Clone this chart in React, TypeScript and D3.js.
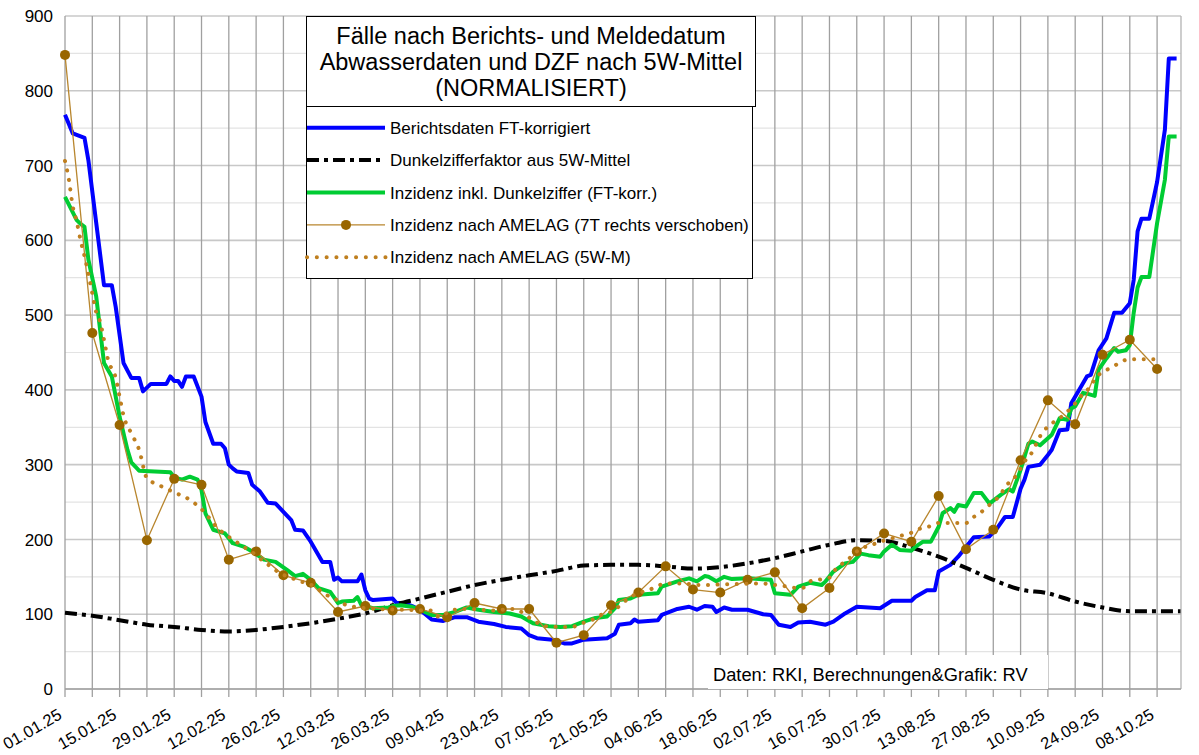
import {useEffect, useRef} from 'react';
import * as d3 from 'd3';

const WIDTH = 1199;
const HEIGHT = 755;
const START = new Date(Date.UTC(2025, 0, 1));
const LAST_DAY = 286;

const yTicks = [0, 100, 200, 300, 400, 500, 600, 700, 800, 900];

const titleLines = [
  'Fälle nach Berichts- und Meldedatum',
  'Abwasserdaten und DZF nach 5W-Mittel',
  '(NORMALISIERT)',
];

const legendLabels = [
  'Berichtsdaten FT-korrigiert',
  'Dunkelzifferfaktor aus 5W-Mittel',
  'Inzidenz inkl. Dunkelziffer (FT-korr.)',
  'Inzidenz nach AMELAG (7T rechts verschoben)',
  'Inzidenz nach AMELAG (5W-M)',
];

const sourceText = 'Daten: RKI, Berechnungen&Grafik: RV';

// [day since 01.01.25, value]
const berichtsdaten: [number, number][] = [
  [0, 768], [2, 743], [5, 737], [6, 707], [10, 540], [12, 540], [13, 511], [15, 436],
  [17, 416], [19, 416], [20, 398], [22, 408], [26, 408], [27, 418], [28, 412], [29, 412],
  [30, 404], [31, 418], [33, 418], [35, 391], [36, 357], [38, 328], [40, 328], [41, 322],
  [42, 300], [43, 295], [44, 291], [47, 289], [48, 273], [50, 264], [52, 249], [54, 248],
  [56, 237], [58, 226], [59, 213], [61, 212], [63, 197], [65, 179], [66, 170], [68, 170],
  [69, 146], [70, 149], [71, 144], [75, 144], [76, 153], [77, 132], [78, 121], [79, 119],
  [84, 121], [85, 115], [87, 115], [89, 111], [91, 106], [94, 93], [97, 91], [100, 96],
  [103, 96], [106, 90], [110, 87], [113, 83], [117, 81], [119, 72], [121, 68], [125, 66],
  [128, 61], [130, 61], [133, 66], [139, 68], [141, 74], [142, 86], [145, 88], [146, 93],
  [147, 90], [152, 92], [153, 99], [157, 107], [160, 110], [162, 106], [164, 111], [166, 110],
  [167, 103], [169, 109], [171, 106], [175, 106], [179, 100], [181, 99], [183, 86], [186, 83],
  [188, 89], [191, 90], [195, 86], [197, 90], [200, 101], [203, 110], [209, 108], [212, 118],
  [217, 118], [218, 123], [221, 132], [223, 132], [224, 157], [227, 166], [229, 177], [233, 203],
  [237, 204], [239, 215], [241, 230], [243, 230], [245, 268], [246, 280], [247, 297], [250, 300],
  [252, 313], [253, 320], [255, 346], [257, 347], [258, 382], [260, 400], [262, 418], [263, 420],
  [265, 453], [267, 469], [269, 503], [271, 503], [273, 516], [274, 547], [275, 612], [276, 629],
  [278, 629], [280, 678], [282, 748], [283, 843], [285, 843],
];

const dunkelziffer: [number, number][] = [
  [0, 102], [7, 98], [14, 92], [21, 86], [28, 83], [35, 79], [42, 77], [49, 79], [56, 83],
  [63, 88], [70, 94], [77, 101], [84, 112], [91, 121], [98, 130], [105, 139], [112, 146],
  [119, 152], [126, 158], [133, 165], [140, 166], [147, 166], [154, 164], [161, 161], [168, 163],
  [175, 168], [182, 175], [189, 184], [196, 193], [203, 199], [210, 198], [217, 189], [224, 177],
  [231, 162], [238, 146], [245, 133], [252, 128], [259, 117], [266, 109], [273, 104], [280, 104],
  [286, 104],
];

const inzidenzDZ: [number, number][] = [
  [0, 658], [3, 627], [4, 622], [5, 618], [6, 574], [8, 525], [10, 436], [11, 427], [12, 418],
  [14, 364], [16, 320], [17, 303], [19, 292], [23, 291], [27, 290], [28, 283], [30, 280],
  [32, 284], [34, 280], [35, 266], [36, 235], [38, 213], [41, 208], [43, 195], [46, 190],
  [48, 184], [51, 173], [54, 170], [57, 159], [59, 151], [61, 154], [63, 146], [65, 135],
  [68, 130], [70, 115], [71, 117], [74, 118], [75, 123], [76, 112], [79, 108], [83, 109],
  [84, 111], [86, 112], [89, 110], [91, 106], [94, 99], [97, 99], [100, 103], [103, 109],
  [106, 106], [110, 103], [114, 101], [117, 97], [120, 88], [124, 84], [127, 83], [130, 84],
  [133, 90], [136, 95], [139, 97], [141, 108], [142, 119], [145, 121], [147, 126], [152, 128],
  [153, 137], [157, 144], [160, 148], [162, 144], [164, 151], [165, 150], [167, 144], [169, 150],
  [171, 147], [175, 148], [178, 147], [181, 146], [182, 128], [186, 126], [188, 137], [191, 142],
  [194, 139], [195, 144], [197, 157], [200, 168], [202, 170], [204, 181], [206, 179], [209, 177],
  [210, 184], [212, 193], [214, 186], [217, 185], [218, 190], [220, 197], [222, 197], [224, 217],
  [225, 235], [227, 242], [228, 237], [229, 246], [231, 244], [233, 262], [235, 262], [237, 248],
  [240, 260], [242, 267], [243, 264], [245, 293], [247, 328], [248, 331], [250, 326], [253, 340],
  [255, 362], [257, 360], [258, 375], [259, 378], [261, 396], [262, 395], [264, 392], [265, 427],
  [267, 442], [269, 456], [270, 451], [272, 453], [273, 460], [274, 503], [275, 537], [276, 551],
  [278, 551], [279, 587], [280, 623], [282, 681], [283, 739], [285, 739],
];

const amelagShifted: [number, number][] = [
  [0, 848], [7, 476], [14, 353], [21, 199], [28, 281], [35, 273], [42, 173], [49, 184],
  [56, 152], [63, 142], [70, 103], [77, 111], [84, 105], [91, 107], [98, 96], [105, 115],
  [112, 107], [119, 107], [126, 62], [133, 72], [140, 112], [147, 129], [154, 164], [161, 133],
  [168, 129], [175, 146], [182, 156], [189, 108], [196, 135], [203, 184], [210, 208], [217, 197],
  [224, 258], [231, 187], [238, 213], [245, 306], [252, 386], [259, 354], [266, 447], [273, 467],
  [280, 428],
];

const amelag5W: [number, number][] = [
  [0, 706], [1, 681], [2, 645], [3, 625], [4, 600], [5, 579], [6, 555], [7, 529], [8, 504],
  [9, 491], [10, 467], [11, 441], [13, 416], [14, 391], [15, 366], [17, 342], [19, 320],
  [21, 282], [24, 273], [28, 263], [32, 253], [36, 235], [38, 222], [39, 216], [41, 207],
  [43, 200], [45, 193], [47, 186], [49, 179], [51, 170], [53, 163], [55, 155], [58, 149],
  [60, 144], [62, 142], [65, 133], [67, 126], [69, 121], [71, 115], [73, 111], [80, 107],
  [86, 106], [94, 105], [96, 96], [98, 102], [100, 106], [103, 107], [110, 105], [115, 107],
  [120, 92], [123, 84], [127, 83], [130, 83], [132, 87], [135, 92], [137, 98], [141, 106],
  [143, 115], [145, 123], [147, 128], [150, 133], [152, 138], [154, 141], [159, 141], [162, 139],
  [164, 139], [169, 140], [179, 141], [182, 139], [184, 138], [186, 136], [189, 135], [191, 144],
  [193, 146], [196, 149], [198, 163], [200, 170], [202, 179], [204, 188], [206, 191], [209, 197],
  [211, 200], [213, 203], [215, 206], [217, 209], [219, 214], [222, 218], [224, 222], [231, 222],
  [233, 230], [235, 237], [237, 246], [239, 255], [242, 276], [244, 286], [246, 304], [248, 317],
  [250, 338], [252, 351], [255, 362], [257, 371], [259, 382], [261, 395], [263, 405], [264, 414],
  [266, 424], [268, 429], [270, 435], [272, 440], [275, 441], [280, 441],
];

const FONT = '"Liberation Sans", Arial, sans-serif';
const BLUE = '#0000ff';
const GREEN = '#00cc33';
const AMELAG_LINE = '#b8862e';
const AMELAG_DOT = '#996600';
const AMELAG_5W = '#bf7f1f';

export default function App() {
  const svgRef = useRef<SVGSVGElement>(null);

  useEffect(() => {
    if (!svgRef.current) return;
    const svg = d3.select(svgRef.current);
    svg.selectAll('*').remove();

    const day = (d: number) => d3.utcDay.offset(START, d);
    const x = d3.scaleUtc().domain([START, day(LAST_DAY)]).range([65, 1180.5]);
    const y = d3.scaleLinear().domain([0, 900]).range([689, 16]);

    svg.append('rect').attr('width', WIDTH).attr('height', HEIGHT).attr('fill', '#fff');

    const plot = svg.append('g');

    // minor horizontal grid
    plot
      .selectAll('.minor')
      .data(d3.range(50, 900, 100))
      .join('line')
      .attr('x1', 65)
      .attr('x2', 1181)
      .attr('y1', (d) => y(d))
      .attr('y2', (d) => y(d))
      .attr('stroke', '#e3e3e3')
      .attr('stroke-width', 1.2);

    plot
      .selectAll('.major')
      .data(yTicks)
      .join('line')
      .attr('x1', 65)
      .attr('x2', 1181)
      .attr('y1', (d) => y(d))
      .attr('y2', (d) => y(d))
      .attr('stroke', '#c8c8c8')
      .attr('stroke-width', 1.6);

    const weeks = d3.range(0, LAST_DAY, 7).map(day);
    plot
      .selectAll('.vgrid')
      .data(weeks)
      .join('line')
      .attr('x1', (d) => x(d))
      .attr('x2', (d) => x(d))
      .attr('y1', 16)
      .attr('y2', 697)
      .attr('stroke', '#a0a0a0')
      .attr('stroke-width', 1.3);

    plot
      .append('line')
      .attr('x1', 1181)
      .attr('x2', 1181)
      .attr('y1', 16)
      .attr('y2', 689)
      .attr('stroke', '#b3b3b3')
      .attr('stroke-width', 1.3);

    plot
      .append('line')
      .attr('x1', 65)
      .attr('x2', 1181)
      .attr('y1', 689)
      .attr('y2', 689)
      .attr('stroke', '#a0a0a0')
      .attr('stroke-width', 1.3);

    // y labels
    svg
      .append('g')
      .selectAll('text')
      .data(yTicks)
      .join('text')
      .attr('x', 53)
      .attr('y', (d) => y(d))
      .attr('dy', '0.36em')
      .attr('text-anchor', 'end')
      .attr('font-family', FONT)
      .attr('font-size', 17)
      .attr('fill', '#000')
      .text((d) => d);

    // x labels
    const fmt = d3.utcFormat('%d.%m.%y');
    svg
      .append('g')
      .selectAll('text')
      .data(weeks.filter((_, i) => i % 2 === 0))
      .join('text')
      .attr('transform', (d) => `translate(${x(d) - 2},${718}) rotate(-30)`)
      .attr('text-anchor', 'end')
      .attr('font-family', FONT)
      .attr('font-size', 16.5)
      .attr('fill', '#000')
      .text((d) => fmt(d));

    const line = (curve: d3.CurveFactory = d3.curveLinear) =>
      d3
        .line<[number, number]>()
        .x((d) => x(day(d[0])))
        .y((d) => y(d[1]))
        .curve(curve);

    plot
      .append('path')
      .attr('d', line()(berichtsdaten))
      .attr('fill', 'none')
      .attr('stroke', BLUE)
      .attr('stroke-width', 4)
      .attr('stroke-linejoin', 'round');

    plot
      .append('path')
      .attr('d', line(d3.curveMonotoneX)(dunkelziffer))
      .attr('fill', 'none')
      .attr('stroke', '#000')
      .attr('stroke-width', 4)
      .attr('stroke-dasharray', '12 5 4 5');

    plot
      .append('path')
      .attr('d', line()(inzidenzDZ))
      .attr('fill', 'none')
      .attr('stroke', GREEN)
      .attr('stroke-width', 4)
      .attr('stroke-linejoin', 'round');

    plot
      .append('path')
      .attr('d', line()(amelagShifted))
      .attr('fill', 'none')
      .attr('stroke', AMELAG_LINE)
      .attr('stroke-width', 1.3);

    plot
      .selectAll('.amelag')
      .data(amelagShifted)
      .join('circle')
      .attr('cx', (d) => x(day(d[0])))
      .attr('cy', (d) => y(d[1]))
      .attr('r', 5)
      .attr('fill', AMELAG_DOT);

    plot
      .append('path')
      .attr('d', line(d3.curveMonotoneX)(amelag5W))
      .attr('fill', 'none')
      .attr('stroke', AMELAG_5W)
      .attr('stroke-width', 4)
      .attr('stroke-linecap', 'round')
      .attr('stroke-dasharray', '0.1 9.5');

    // title box
    const box = svg.append('g');
    box
      .append('rect')
      .attr('x', 306.5)
      .attr('y', 16.5)
      .attr('width', 449)
      .attr('height', 90)
      .attr('fill', '#fff')
      .attr('stroke', '#000')
      .attr('stroke-width', 1);
    box
      .selectAll('.title')
      .data(titleLines)
      .join('text')
      .attr('x', 531)
      .attr('y', (_, i) => 44 + i * 26)
      .attr('text-anchor', 'middle')
      .attr('font-family', FONT)
      .attr('font-size', 23.5)
      .attr('fill', '#000')
      .text((d) => d);

    // legend box
    box
      .append('rect')
      .attr('x', 306.5)
      .attr('y', 106.5)
      .attr('width', 446)
      .attr('height', 172)
      .attr('fill', '#fff')
      .attr('stroke', '#000')
      .attr('stroke-width', 1);

    const legendY = (i: number) => 127.7 + i * 32.4;
    const items = box
      .selectAll('.legend')
      .data(legendLabels)
      .join('g')
      .attr('transform', (_, i) => `translate(0,${legendY(i)})`);

    items
      .append('text')
      .attr('x', 390)
      .attr('dy', '0.36em')
      .attr('font-family', FONT)
      .attr('font-size', 17)
      .attr('fill', '#000')
      .text((d) => d);

    items.each(function (_, i) {
      const g = d3.select(this);
      if (i === 0 || i === 2) {
        g.append('line')
          .attr('x1', 307)
          .attr('x2', 385)
          .attr('stroke', i === 0 ? BLUE : GREEN)
          .attr('stroke-width', 4);
      } else if (i === 1) {
        g.append('line')
          .attr('x1', 307)
          .attr('x2', 385)
          .attr('stroke', '#000')
          .attr('stroke-width', 4)
          .attr('stroke-dasharray', '12 5 4 5');
      } else if (i === 3) {
        g.append('line')
          .attr('x1', 307)
          .attr('x2', 385)
          .attr('stroke', AMELAG_LINE)
          .attr('stroke-width', 1.3);
        g.append('circle').attr('cx', 346).attr('r', 5).attr('fill', AMELAG_DOT);
      } else {
        g.append('line')
          .attr('x1', 307)
          .attr('x2', 388)
          .attr('stroke', AMELAG_5W)
          .attr('stroke-width', 4)
          .attr('stroke-linecap', 'round')
          .attr('stroke-dasharray', '0.1 9.7');
      }
    });

    // source note
    svg
      .append('rect')
      .attr('x', 708)
      .attr('y', 655)
      .attr('width', 340)
      .attr('height', 34)
      .attr('fill', '#fff');
    svg
      .append('text')
      .attr('x', 713)
      .attr('y', 681)
      .attr('font-family', FONT)
      .attr('font-size', 18.3)
      .attr('fill', '#000')
      .text(sourceText);
  }, []);

  return (
    <svg
      ref={svgRef}
      width={WIDTH}
      height={HEIGHT}
      style={{position: 'absolute', left: 0, top: 0, display: 'block'}}
    />
  );
}
